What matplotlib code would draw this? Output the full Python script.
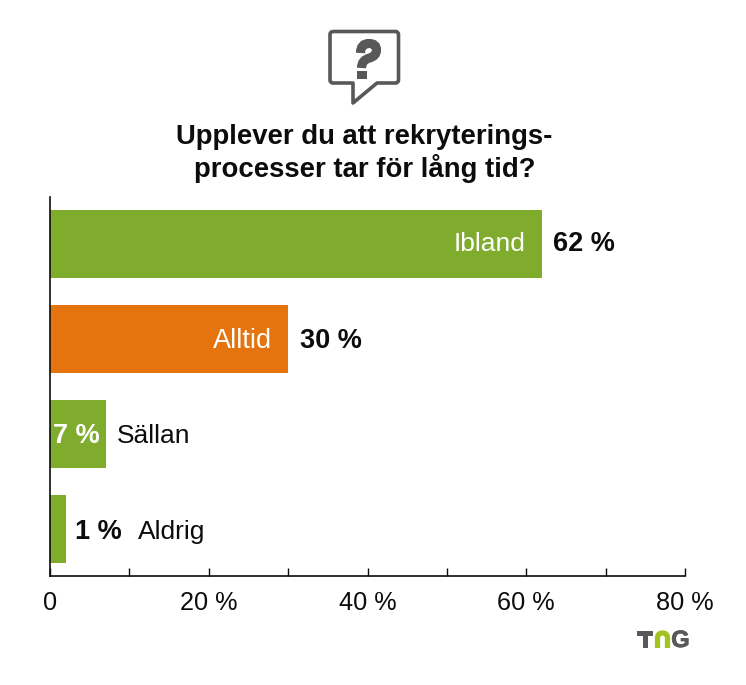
import matplotlib
matplotlib.use('Agg')
import matplotlib.pyplot as plt
import matplotlib.patheffects as pe
from matplotlib.patches import PathPatch, Rectangle
from matplotlib.path import Path

plt.rcParams['font.family'] = ['Liberation Sans', 'DejaVu Sans']

categories = ['Ibland', 'Alltid', 'Sällan', 'Aldrig']
bar_lengths = [62, 30, 7, 2]
value_labels = ['62 %', '30 %', '7 %', '1 %']
bar_colors = ['#7fac2d', '#e5740e', '#7fac2d', '#7fac2d']
major_ticks = [0, 20, 40, 60, 80]
major_labels = ['0', '20 %', '40 %', '60 %', '80 %']
minor_ticks = [10, 30, 50, 70]
title = 'Upplever du att rekryterings-\nprocesser tar för lång tid?'

W, H = 746, 685
GREY = '#58585a'
INK = '#0c0c0c'

fig = plt.figure(figsize=(W / 100, H / 100), dpi=100, facecolor='white')
ax = fig.add_axes([50 / W, 1 - 576 / H, 635 / W, 379 / H])

ax.barh(range(4), bar_lengths, height=0.716, color=bar_colors)
ax.set_xlim(0, 80)
ax.set_ylim(3.495, -0.495)

for s in ['top', 'right']:
    ax.spines[s].set_visible(False)
for s in ['left', 'bottom']:
    ax.spines[s].set_linewidth(1.2)
    ax.spines[s].set_color(INK)

ax.set_yticks([])
ax.set_xticks(major_ticks)
ax.set_xticklabels(major_labels, fontsize=18.2, color=INK)
ax.set_xticks(minor_ticks, minor=True)
ax.tick_params(axis='x', which='both', direction='in', length=6, width=1.0, color=INK)
ax.tick_params(axis='x', which='major', pad=11)

# labels inside the long bars
ax.text(bar_lengths[0] - 2.1, 0, categories[0], ha='right', va='center', color='white', fontsize=19)
ax.text(bar_lengths[1] - 2.0, 1.02, categories[1], ha='right', va='center', color='white', fontsize=19.5)
ax.text(bar_lengths[0] + 1.4, 0, value_labels[0], ha='left', va='center', color=INK, fontsize=19.5, fontweight='bold')
ax.text(bar_lengths[1] + 1.5, 1.02, value_labels[1], ha='left', va='center', color=INK, fontsize=19.5, fontweight='bold')

# short bars
ax.text(3.35, 2.02, value_labels[2], ha='center', va='center', color='white', fontsize=19.5, fontweight='bold')
ax.text(8.4, 2.02, categories[2], ha='left', va='center', color=INK, fontsize=19)
ax.text(3.2, 3.03, value_labels[3], ha='left', va='center', color=INK, fontsize=19.5, fontweight='bold')
ax.text(11.1, 3.03, categories[3], ha='left', va='center', color=INK, fontsize=19)

fig.text(364.5 / W, 1 - 153.5 / H, title, ha='center', va='center', fontsize=19.8, fontweight='bold',
         color=INK, linespacing=1.2)

# overlay in pixel coordinates for the icon and logo
ov = fig.add_axes([0, 0, 1, 1], facecolor='none')
ov.set_xlim(0, W)
ov.set_ylim(H, 0)
ov.axis('off')

# speech bubble, rounded corners
L, R, T, B, r = 330, 398.5, 31.5, 83, 3
M, C, Z = Path.MOVETO, Path.CURVE3, Path.LINETO
bubble = [(L + r, T), (R - r, T), (R, T), (R, T + r), (R, B - r), (R, B), (R - r, B),
          (377, B), (353, 103), (353, B), (L + r, B), (L, B), (L, B - r), (L, T + r), (L, T), (L + r, T)]
codes = [M, Z, C, C, Z, C, C, Z, Z, Z, Z, C, C, Z, C, C]
ov.add_patch(PathPatch(Path(bubble, codes), fill=False, edgecolor=GREY, linewidth=2.6, joinstyle='round'))

# question mark
q = [(360.5, 53), (360.5, 43.5), (369, 43.5), (376.5, 43.5), (376.5, 50), (376.5, 56), (369.5, 58), (361.5, 60), (361.5, 68)]
q_codes = [M, C, C, C, C, C, C, C, C]
ov.add_patch(PathPatch(Path(q, q_codes), fill=False, edgecolor=GREY, linewidth=6.6, capstyle='butt'))
ov.add_patch(Rectangle((357, 71), 9.5, 8, facecolor=GREY, edgecolor='none'))

# TNG logo
ov.add_patch(Rectangle((637, 631), 16, 4.5, facecolor=GREY, edgecolor='none'))
ov.add_patch(Rectangle((642.5, 631), 5, 17, facecolor=GREY, edgecolor='none'))
n_arch = [(657.5, 648), (657.5, 638), (657.5, 633), (662.5, 633), (667.5, 633), (667.5, 638), (667.5, 648)]
ov.add_patch(PathPatch(Path(n_arch, [M, Z, C, C, C, C, Z]), fill=False, edgecolor='#a5c31f', linewidth=3.8, capstyle='butt'))
g = ov.text(680.5, 640.5, 'G', ha='center', va='center', fontsize=17, fontweight='bold', color=GREY)
g.set_path_effects([pe.withStroke(linewidth=0.6, foreground=GREY)])

fig.savefig('out.png', dpi=100, facecolor='white')
